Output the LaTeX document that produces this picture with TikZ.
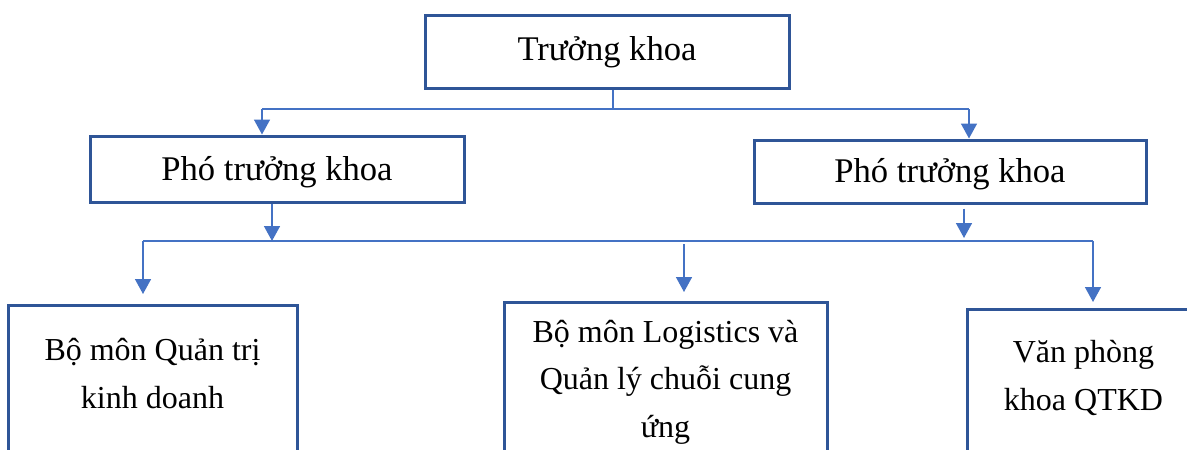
\documentclass[tikz,border=0pt]{standalone}
\usepackage{fontspec}
\setmainfont{Liberation Serif}
\usetikzlibrary{arrows.meta,calc}
\definecolor{boxblue}{RGB}{47,85,151}
\definecolor{linkblue}{RGB}{68,114,196}
\begin{document}
\begin{tikzpicture}[x=1pt,y=-1pt,
  box/.style={draw=boxblue,line width=3pt,inner sep=0pt,font=\fontsize{34.6}{48}\selectfont},
  conn/.style={draw=linkblue,line width=1.6pt},
  arr/.style={conn,-{Triangle[width=16pt,length=15pt]}},
  txt/.style={font=\fontsize{32}{47.5}\selectfont,align=center,inner sep=0pt}]
\useasboundingbox (0,0) rectangle (1187,450);
\clip (0,0) rectangle (1187,450);
% boxes
\node[box,minimum width=364pt,minimum height=73pt,text height=25pt,text depth=8pt] (top) at (607,51.5) {Trưởng khoa};
\node[box,minimum width=374pt,minimum height=66pt,text height=30pt,text depth=8pt] (ptk1) at (277,169) {Phó trưởng khoa};
\node[box,minimum width=392pt,minimum height=63pt,text height=29pt,text depth=8pt] (ptk2) at (950,171.5) {Phó trưởng khoa};
\node[box,minimum width=289pt,minimum height=200pt,anchor=north] (b1) at (152.5,304) {};
\node[box,minimum width=323pt,minimum height=200pt,anchor=north] (b2) at (665.5,301) {};
\node[box,minimum width=233pt,minimum height=200pt,anchor=north] (b3) at (1083.5,308) {};
\node[txt,anchor=base] (t1) at (152.5,408) {Bộ môn Quản trị\\kinh doanh};
\node[txt,anchor=base] (t2) at (665.5,437) {Bộ môn Logistics và\\Quản lý chuỗi cung\\ứng};
\node[txt,anchor=base] (t3) at (1083.5,410) {Văn phòng\\khoa QTKD};
% connectors, first level
\coordinate (j1) at (613,109);
\coordinate (a1) at ([xshift=-15pt]ptk1.north);
\coordinate (a2) at ([xshift=19pt]ptk2.north);
\draw[conn] (top.south -| j1) -- (j1);
\draw[conn] (a1 |- j1) -- (a2 |- j1);
\draw[arr] (a1 |- j1) -- (a1);
\draw[arr] (a2 |- j1) -- (a2);
% second level
\coordinate (j2) at (400,241);
\coordinate (p1s) at ([xshift=-5pt]ptk1.south);
\coordinate (p2s) at ([xshift=14pt,yshift=-4pt]ptk2.south);
\draw[arr] (p1s) -- (p1s |- j2);
\draw[arr] (p2s) -- ($(p2s |- j2)+(0,-3)$);
\coordinate (c1) at ([xshift=-9.5pt,yshift=10pt]b1.north);
\coordinate (c2) at ([xshift=18.5pt,yshift=9pt]b2.north);
\coordinate (c3) at ([xshift=9.5pt,yshift=6pt]b3.north);
\draw[conn] (c1 |- j2) -- (c3 |- j2);
\draw[arr] (c1 |- j2) -- (c1);
\draw[arr] ($(c2 |- j2)+(0,3)$) -- (c2);
\draw[arr] (c3 |- j2) -- (c3);
\end{tikzpicture}
\end{document}
